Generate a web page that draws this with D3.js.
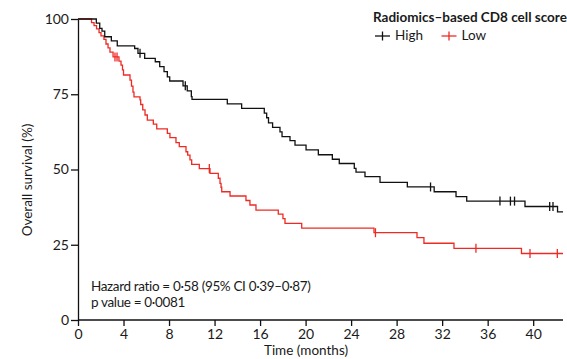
<!DOCTYPE html>
<html>
<head>
<meta charset="utf-8">
<script src="https://cdnjs.cloudflare.com/ajax/libs/d3/7.8.5/d3.min.js"></script>
<style>
html,body{margin:0;padding:0;background:#fff;}
svg{display:block;}
text{font-family:Lato,"Open Sans",sans-serif;fill:#1a1a1a;}
</style>
</head>
<body>
<svg id="chart" width="567" height="359"></svg>
<script>
// ---- data ----
const xTicks = [0, 4, 8, 12, 16, 20, 24, 28, 32, 36, 40];
const yTicks = [0, 25, 50, 75, 100];
const maxTime = 42.62;

const highTimes = [1.61, 1.91, 2.11, 2.35, 2.93, 3.45, 4.98, 5.27, 5.86, 6.79, 7.18, 7.56, 7.85, 8.06, 9.23, 9.60, 9.96, 10.02, 13.12, 14.38, 16.37, 16.58, 16.74, 17.10, 17.75, 17.93, 18.63, 19.07, 20.04, 21.12, 22.35, 22.96, 24.28, 24.43, 25.22, 26.54, 28.94, 31.30, 33.22, 34.16, 39.28, 42.14];
const highSurv  = [98.6, 96.9, 96.0, 94.1, 92.7, 91.1, 90.2, 88.6, 86.9, 85.8, 84.2, 82.5, 80.8, 79.4, 77.8, 76.1, 74.2, 73.3, 71.8, 70.3, 68.7, 67.2, 65.5, 64.0, 62.5, 60.9, 59.6, 58.1, 56.5, 54.9, 53.4, 52.0, 50.4, 49.1, 47.6, 45.7, 44.2, 42.6, 41.0, 39.5, 37.7, 35.9];
const highCensor = [5.45, 9.43, 30.98, 37.08, 38.0, 38.36, 41.45, 41.74];

const lowTimes = [1.19, 1.41, 1.63, 1.85, 2.02, 2.28, 2.46, 2.64, 2.81, 3.08, 3.60, 3.78, 3.91, 4.00, 4.57, 4.70, 4.83, 4.92, 5.45, 5.51, 5.69, 5.89, 6.09, 6.62, 6.92, 7.85, 8.08, 8.61, 8.90, 9.49, 9.64, 9.84, 9.99, 10.66, 11.60, 12.33, 12.48, 12.57, 12.63, 13.36, 14.76, 15.11, 15.64, 17.60, 18.01, 18.19, 19.66, 26.01, 29.79, 30.40, 33.04, 38.97];
const lowSurv  = [98.8, 97.8, 96.7, 95.5, 94.4, 93.2, 91.7, 90.4, 89.0, 87.4, 86.0, 84.7, 83.1, 81.4, 79.7, 77.7, 75.7, 74.1, 73.1, 71.6, 69.8, 68.1, 66.4, 65.1, 63.5, 62.0, 60.6, 58.9, 57.6, 55.9, 54.8, 53.2, 51.7, 50.3, 48.7, 47.1, 45.4, 44.1, 42.6, 41.2, 39.7, 38.2, 36.5, 35.2, 33.7, 32.1, 30.5, 29.0, 27.4, 25.5, 23.8, 22.1];
const lowCensor = [3.25, 3.43, 11.54, 26.14, 34.97, 39.72, 42.12];

const legendTitle = "Radiomics\u2013based CD8 cell score";
const seriesNames = ["High", "Low"];
const seriesColors = ["#111111", "#ee2a24"];
const statLines = ["Hazard ratio = 0\u00b758 (95% CI 0\u00b739\u20130\u00b787)", "p value = 0\u00b70081"];

// ---- chart ----
const svg = d3.select("#chart");
const x = d3.scaleLinear().domain([0, maxTime]).range([78, 563]);
const y = d3.scaleLinear().domain([0, 100]).range([320, 19]);

function survAt(times, surv, t) {
  let s = 100;
  for (let i = 0; i < times.length; i++) { if (times[i] <= t) s = surv[i]; }
  return s;
}

const series = [
  {times: highTimes, surv: highSurv, censor: highCensor, color: seriesColors[0]},
  {times: lowTimes, surv: lowSurv, censor: lowCensor, color: seriesColors[1]}
];

const line = d3.line().x(d => x(d[0])).y(d => y(d[1])).curve(d3.curveStepAfter);

[series[1], series[0]].forEach(s => {
  const pts = [[0, 100]].concat(s.times.map((t, i) => [t, s.surv[i]]));
  pts.push([maxTime, s.surv[s.surv.length - 1]]);
  svg.append("path").datum(pts)
    .attr("d", line).attr("fill", "none")
    .attr("stroke", s.color).attr("stroke-width", 1.3);
  svg.append("g").selectAll("line").data(s.censor).join("line")
    .attr("x1", d => x(d)).attr("x2", d => x(d))
    .attr("y1", d => y(survAt(s.times, s.surv, d)) - 4.5)
    .attr("y2", d => y(survAt(s.times, s.surv, d)) + 4.5)
    .attr("stroke", s.color).attr("stroke-width", 1.3);
});

// axes
const xAxis = d3.axisBottom(x).tickValues(xTicks).tickSize(6).tickPadding(3).tickSizeOuter(0);
const yAxis = d3.axisLeft(y).tickValues(yTicks).tickSize(7).tickPadding(2).tickSizeOuter(0);
const gx = svg.append("g").attr("transform", "translate(0,320)").call(xAxis);
const gy = svg.append("g").attr("transform", "translate(78,0)").call(yAxis);
[gx, gy].forEach(g => {
  g.select(".domain").attr("stroke", "#111").attr("stroke-width", 1.3);
  g.selectAll(".tick line").attr("stroke", "#111").attr("stroke-width", 1.3);
  g.selectAll(".tick text").style("font-family", "Lato, sans-serif").style("font-size", "14px").attr("fill", "#1a1a1a");
});
gx.select(".domain").attr("d", "M" + x(0) + ",0H" + x(maxTime));

// axis titles
svg.append("text").attr("x", 306).attr("y", 355).attr("text-anchor", "middle")
  .style("font-size", "13.5px").text("Time (months)");
svg.append("text").attr("transform", "translate(32,180) rotate(-90)").attr("text-anchor", "middle")
  .style("font-size", "13.5px").text("Overall survival (%)");

// stats text
statLines.forEach((t, i) => {
  svg.append("text").attr("x", 91).attr("y", 291 + i * 16)
    .style("font-size", "13.5px").style("letter-spacing", "-0.35px").text(t);
});

// legend
svg.append("text").attr("x", 373).attr("y", 22).style("font-size", "13.5px").style("font-weight", "bold").text(legendTitle);
const legX = [375, 441.5];
seriesNames.forEach((n, i) => {
  const g = svg.append("g");
  g.append("line").attr("x1", legX[i]).attr("x2", legX[i] + 15).attr("y1", 36).attr("y2", 36)
    .attr("stroke", seriesColors[i]).attr("stroke-width", 1.3);
  g.append("line").attr("x1", legX[i] + 7.5).attr("x2", legX[i] + 7.5).attr("y1", 31.5).attr("y2", 40.5)
    .attr("stroke", seriesColors[i]).attr("stroke-width", 1.3);
  g.append("text").attr("x", legX[i] + 20).attr("y", 40).style("font-size", "13.5px").text(n);
});
</script>
</body>
</html>
